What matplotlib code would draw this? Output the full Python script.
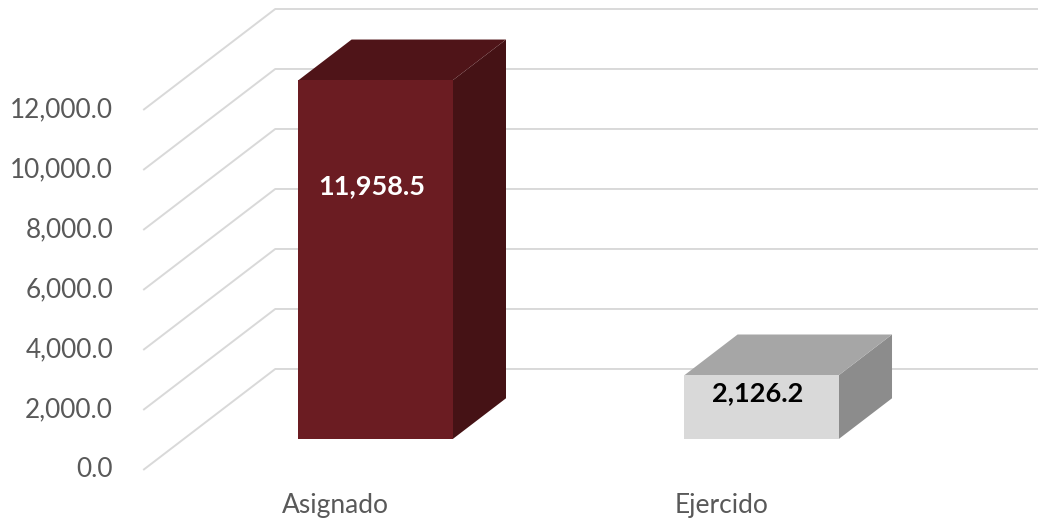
import matplotlib
matplotlib.use('Agg')
import matplotlib.pyplot as plt
from matplotlib.patches import Polygon

categories = ['Asignado', 'Ejercido']
values = [11958.5, 2126.2]
value_labels = ['11,958.5', '2,126.2']
ticks = [0, 2000, 4000, 6000, 8000, 10000, 12000]
tick_labels = ['0.0', '2,000.0', '4,000.0', '6,000.0', '8,000.0', '10,000.0', '12,000.0']

front_colors = ['#6B1C22', '#D9D9D9']
top_colors = ['#4F1418', '#A6A6A6']
side_colors = ['#451215', '#8C8C8C']
label_colors = ['white', 'black']
label_at = [8430, 1530]   # where the value label sits on the front face

plt.rcParams['font.family'] = ['Lato', 'DejaVu Sans']

# oblique projection: depth d in [0, 1] moves right and up
DX = 0.342
DV = 3367
D0, D1 = 0.307, 0.71
W = 0.40
X_AXIS = -0.497


def proj(x, v, d):
    return (x + d * DX, v + d * DV)


fig = plt.figure(figsize=(10.38, 5.26), dpi=100)
ax = fig.add_axes([0, 0, 1, 1])
ax.set_xlim(-0.868, 1.821)
ax.set_ylim(-1867, 15667)
ax.axis('off')

grid_c = '#D9D9D9'
for t, lab in zip(ticks, tick_labels):
    p0 = proj(X_AXIS, t, 0)
    p1 = proj(X_AXIS, t, 1)
    ax.plot([p0[0], p1[0], 2.0], [p0[1], p1[1], p1[1]], color=grid_c,
            lw=1.4, zorder=1, solid_capstyle='butt')
    ax.text(-0.575, t, lab, ha='right', va='center', fontsize=18.8,
            color='#595959')

for i, (cat, val) in enumerate(zip(categories, values)):
    xl, xr = i - W / 2, i + W / 2
    front = [proj(xl, 0, D0), proj(xr, 0, D0), proj(xr, val, D0), proj(xl, val, D0)]
    top = [proj(xl, val, D0), proj(xr, val, D0), proj(xr, val, D1), proj(xl, val, D1)]
    side = [proj(xr, 0, D0), proj(xr, 0, D1), proj(xr, val, D1), proj(xr, val, D0)]
    ax.add_patch(Polygon(side, closed=True, fc=side_colors[i], ec='none', zorder=3))
    ax.add_patch(Polygon(top, closed=True, fc=top_colors[i], ec='none', zorder=3))
    ax.add_patch(Polygon(front, closed=True, fc=front_colors[i], ec='none', zorder=4))

    lx, ly = proj(i - 0.01, label_at[i], D0)
    ax.text(lx, ly, value_labels[i], ha='center', va='center', fontsize=19.5,
            fontweight='bold', color=label_colors[i], zorder=5)
    ax.text(i, -1170, cat, ha='center', va='center', fontsize=19,
            color='#595959')

fig.savefig('out.png', dpi=100)
